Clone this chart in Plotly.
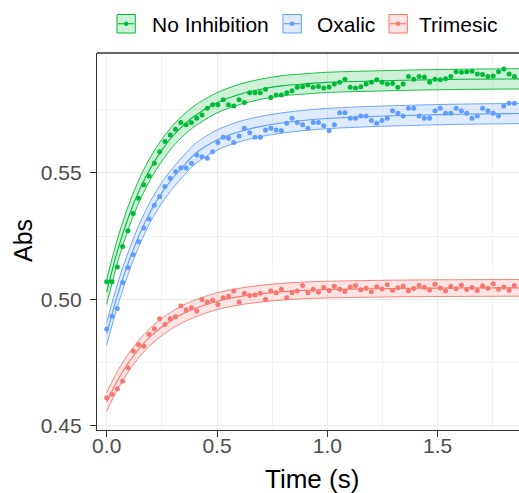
import plotly.graph_objects as go

# ---------------- data ----------------
time_s = [
    0.000, 0.024, 0.048, 0.072, 0.096, 0.120, 0.144, 0.168, 0.192, 0.216,
    0.240, 0.264, 0.288, 0.312, 0.336, 0.360, 0.384, 0.408, 0.432, 0.456,
    0.480, 0.504, 0.528, 0.552, 0.576, 0.600, 0.624, 0.648, 0.672, 0.696,
    0.720, 0.744, 0.768, 0.792, 0.816, 0.840, 0.864, 0.888, 0.912, 0.936,
    0.960, 0.984, 1.008, 1.032, 1.056, 1.080, 1.104, 1.128, 1.152, 1.176,
    1.200, 1.224, 1.248, 1.272, 1.296, 1.320, 1.344, 1.368, 1.392, 1.416,
    1.440, 1.464, 1.488, 1.512, 1.536, 1.560, 1.584, 1.608, 1.632, 1.656,
    1.680, 1.704, 1.728, 1.752, 1.776, 1.800, 1.824, 1.848]

no_inhibition = [
    0.5070, 0.5070, 0.5128, 0.5209, 0.5271, 0.5340,
    0.5400, 0.5453, 0.5488, 0.5538, 0.5584, 0.5624, 0.5650, 0.5673, 0.5699, 0.5690,
    0.5699, 0.5716, 0.5729, 0.5756, 0.5769, 0.5769, 0.5789, 0.5769, 0.5765, 0.5789,
    0.5778, 0.5817, 0.5817, 0.5817, 0.5831, 0.5798, 0.5808, 0.5808, 0.5817, 0.5825,
    0.5839, 0.5841, 0.5848,
    0.5839, 0.5842, 0.5836, 0.5840, 0.5851, 0.5858, 0.5870, 0.5839, 0.5836, 0.5841,
    0.5851, 0.5858, 0.5868, 0.5858, 0.5851, 0.5853, 0.5839, 0.5851, 0.5881, 0.5870,
    0.5881, 0.5879, 0.5858, 0.5870, 0.5868, 0.5872, 0.5881, 0.5900, 0.5898, 0.5900,
    0.5902, 0.5891, 0.5889, 0.5881, 0.5883, 0.5900, 0.5911, 0.5891, 0.5881]

oxalic = [
    0.4883, 0.4934, 0.4964, 0.5067, 0.5126, 0.5178, 0.5228, 0.5282, 0.5318, 0.5372,
    0.5406, 0.5446, 0.5479, 0.5505, 0.5519, 0.5519, 0.5538, 0.5571, 0.5564, 0.5558,
    0.5584, 0.5620, 0.5641, 0.5637, 0.5620, 0.5646, 0.5677, 0.5659, 0.5641, 0.5641,
    0.5670, 0.5677, 0.5670, 0.5667, 0.5696, 0.5716, 0.5699, 0.5690, 0.5677,
    0.5699, 0.5699, 0.5686, 0.5667, 0.5690, 0.5738, 0.5738, 0.5716, 0.5716, 0.5725,
    0.5725, 0.5707, 0.5696, 0.5707, 0.5716, 0.5746, 0.5736, 0.5725, 0.5756, 0.5756,
    0.5725, 0.5716, 0.5716, 0.5746, 0.5756, 0.5736, 0.5736, 0.5756, 0.5746, 0.5736,
    0.5716, 0.5725, 0.5756, 0.5746, 0.5736, 0.5725, 0.5765, 0.5775, 0.5775]

trimesic = [
    0.4611, 0.4625, 0.4647, 0.4677, 0.4730, 0.4796, 0.4822, 0.4815, 0.4862, 0.4884,
    0.4924, 0.4901, 0.4924, 0.4932, 0.4974, 0.4958, 0.4967, 0.4954, 0.5000, 0.4989,
    0.4997, 0.4980, 0.5007, 0.5013, 0.5033, 0.4989, 0.5024, 0.5016, 0.5018, 0.5024,
    0.5000, 0.5033, 0.5026, 0.5040, 0.5007, 0.5026, 0.5033, 0.5055, 0.5026,
    0.5040, 0.5028, 0.5047, 0.5035, 0.5052, 0.5040, 0.5031, 0.5049, 0.5055, 0.5038,
    0.5044, 0.5030, 0.5050, 0.5041, 0.5058, 0.5036, 0.5046, 0.5052, 0.5034, 0.5043,
    0.5055, 0.5048, 0.5037, 0.5060, 0.5045, 0.5033, 0.5051, 0.5042, 0.5056, 0.5039,
    0.5047, 0.5035, 0.5053, 0.5044, 0.5062, 0.5040, 0.5049, 0.5036, 0.5055]

# fitted curves and confidence bands
fit_time = [0, 0.05, 0.1, 0.15, 0.2, 0.25, 0.3, 0.35, 0.4, 0.5, 0.6, 0.7, 0.8, 0.9,
            1.0, 1.2, 1.4, 1.6, 1.9]

no_inh_fit = [0.5030, 0.5196, 0.5329, 0.5436, 0.5521, 0.5590, 0.5646, 0.5690, 0.5726, 0.5777,
              0.5810, 0.5831, 0.5845, 0.5852, 0.5858, 0.5863, 0.5867, 0.5870, 0.5872]
no_inh_hi = [0.5080, 0.5243, 0.5375, 0.5481, 0.5565, 0.5633, 0.5688, 0.5731, 0.5767, 0.5817,
             0.5850, 0.5871, 0.5885, 0.5892, 0.5898, 0.5903, 0.5907, 0.5910, 0.5912]
no_inh_lo = [0.4980, 0.5149, 0.5283, 0.5391, 0.5477, 0.5547, 0.5604, 0.5649, 0.5685, 0.5737,
             0.5770, 0.5791, 0.5805, 0.5812, 0.5818, 0.5823, 0.5827, 0.5830, 0.5832]

oxalic_fit = [0.4865, 0.5020, 0.5150, 0.5260, 0.5350, 0.5422, 0.5480, 0.5530, 0.5575, 0.5630,
              0.5663, 0.5684, 0.5698, 0.5708, 0.5715, 0.5723, 0.5728, 0.5732, 0.5735]
oxalic_hi = [0.4910, 0.5064, 0.5193, 0.5302, 0.5391, 0.5463, 0.5520, 0.5570, 0.5615, 0.5670,
             0.5703, 0.5724, 0.5738, 0.5748, 0.5755, 0.5763, 0.5768, 0.5772, 0.5775]
oxalic_lo = [0.4820, 0.4976, 0.5107, 0.5218, 0.5309, 0.5381, 0.5440, 0.5490, 0.5535, 0.5590,
             0.5623, 0.5644, 0.5658, 0.5668, 0.5675, 0.5683, 0.5688, 0.5692, 0.5695]

trimesic_fit = [0.4595, 0.4682, 0.4752, 0.4809, 0.4855, 0.4891, 0.4921, 0.4945, 0.4964, 0.4993,
                0.5011, 0.5023, 0.5031, 0.5036, 0.5039, 0.5042, 0.5044, 0.5045, 0.5046]
trimesic_hi = [0.4632, 0.4718, 0.4787, 0.4843, 0.4889, 0.4925, 0.4955, 0.4979, 0.4998, 0.5026,
               0.5044, 0.5056, 0.5064, 0.5069, 0.5072, 0.5075, 0.5077, 0.5078, 0.5079]
trimesic_lo = [0.4558, 0.4646, 0.4717, 0.4775, 0.4821, 0.4857, 0.4887, 0.4911, 0.4930, 0.4960,
               0.4978, 0.4990, 0.4998, 0.5003, 0.5006, 0.5009, 0.5011, 0.5012, 0.5013]

series_names = ["No Inhibition", "Oxalic", "Trimesic"]
x_tick_vals = [0, 0.5, 1.0, 1.5]
x_tick_text = ["0.0", "0.5", "1.0", "1.5"]
y_tick_vals = [0.45, 0.50, 0.55]
y_tick_text = ["0.45", "0.50", "0.55"]

# ---------------- styling ----------------
colors = ["#00BA38", "#619CFF", "#F8766D"]
fills = ["rgba(0,186,56,0.20)", "rgba(97,156,255,0.20)", "rgba(248,118,109,0.20)"]
FONT = "Liberation Sans, Arial, Helvetica, sans-serif"

W, H = 519, 493
L, R, T, B = 97, 0, 53, 63
PW, PH = W - L - R, H - T - B


def px_x(px):
    return (px - L) / PW


def px_y(py):
    return (H - B - py) / PH


points = [no_inhibition, oxalic, trimesic]
fits = [no_inh_fit, oxalic_fit, trimesic_fit]
his = [no_inh_hi, oxalic_hi, trimesic_hi]
los = [no_inh_lo, oxalic_lo, trimesic_lo]

fig = go.Figure()
for name, c, fc, pts, fit, hi, lo in zip(series_names, colors, fills, points, fits, his, los):
    fig.add_trace(go.Scatter(x=fit_time, y=lo, mode="lines", name=name,
                             line=dict(color=c, width=0.9, shape="spline", smoothing=0.8),
                             hoverinfo="skip", showlegend=False))
    fig.add_trace(go.Scatter(x=fit_time, y=hi, mode="lines", name=name,
                             line=dict(color=c, width=0.9, shape="spline", smoothing=0.8),
                             fill="tonexty", fillcolor=fc, hoverinfo="skip", showlegend=False))
    fig.add_trace(go.Scatter(x=fit_time, y=fit, mode="lines", name=name,
                             line=dict(color=c, width=1.1, shape="spline", smoothing=0.8),
                             showlegend=False))
    fig.add_trace(go.Scatter(x=time_s, y=pts, mode="markers", name=name,
                             marker=dict(color=c, size=5, line=dict(width=0)),
                             showlegend=False))

axis_common = dict(
    showgrid=True, gridcolor="#EBEBEB", gridwidth=1.1, zeroline=False,
    showline=True, linecolor="#333333", linewidth=1.3,
    ticks="outside", ticklen=6, tickwidth=1.2, tickcolor="#333333",
    tickfont=dict(family=FONT, size=21, color="#4D4D4D"),
)

fig.update_xaxes(range=[-0.044, 1.869], tickmode="array", tickvals=x_tick_vals,
                 ticktext=x_tick_text,
                 minor=dict(tickmode="array", tickvals=[0.25, 0.75, 1.25, 1.75],
                            showgrid=True, gridcolor="#F2F2F2", gridwidth=0.7, ticks=""),
                 ticklabelstandoff=-9, **axis_common)
fig.update_yaxes(range=[0.4484, 0.5974], tickmode="array", tickvals=y_tick_vals,
                 ticktext=y_tick_text,
                 minor=dict(tickmode="array", tickvals=[0.475, 0.525, 0.575],
                            showgrid=True, gridcolor="#F2F2F2", gridwidth=0.7, ticks=""),
                 ticklabelstandoff=4, **axis_common)

shapes = [dict(type="line", xref="paper", yref="paper", x0=0, x1=1, y0=1, y1=1,
               line=dict(color="#333333", width=1.3), layer="above")]
annotations = []

# manual legend (ggplot style keys)
key_left = [117, 283, 389]
text_left = [150, 315, 417]
key_top, key_bot = 14.5, 33.0
key_mid = (key_top + key_bot) / 2
for name, c, fc, kx, tx in zip(series_names, colors, fills, key_left, text_left):
    kx1 = kx + 18.3
    shapes.append(dict(type="rect", xref="paper", yref="paper",
                       x0=px_x(kx), x1=px_x(kx1), y0=px_y(key_bot), y1=px_y(key_top),
                       fillcolor=fc, line=dict(color=c, width=1)))
    shapes.append(dict(type="line", xref="paper", yref="paper",
                       x0=px_x(kx + 1), x1=px_x(kx1 - 1), y0=px_y(key_mid), y1=px_y(key_mid),
                       line=dict(color=c, width=1.1)))
    cx = (kx + kx1) / 2
    shapes.append(dict(type="circle", xref="paper", yref="paper",
                       x0=px_x(cx - 2.2), x1=px_x(cx + 2.2),
                       y0=px_y(key_mid + 2.2), y1=px_y(key_mid - 2.2),
                       fillcolor=c, line=dict(color=c, width=0)))
    annotations.append(dict(text=name, xref="paper", yref="paper",
                            x=px_x(tx), y=px_y(24.5), xanchor="left", yanchor="middle",
                            showarrow=False, font=dict(family=FONT, size=21, color="#000000")))

# axis titles
annotations.append(dict(text="Time (s)", xref="paper", yref="paper",
                        x=px_x(311.7), y=px_y(479), xanchor="center", yanchor="middle",
                        showarrow=False, font=dict(family=FONT, size=26, color="#000000")))
annotations.append(dict(text="Abs", xref="paper", yref="paper", textangle=-90,
                        x=px_x(23), y=px_y(241), xanchor="center", yanchor="middle",
                        showarrow=False, font=dict(family=FONT, size=25, color="#000000")))

fig.update_layout(
    width=W, height=H,
    margin=dict(l=L, r=R, t=T, b=B, pad=0),
    plot_bgcolor="white", paper_bgcolor="white",
    showlegend=False,
    font=dict(family=FONT),
    shapes=shapes, annotations=annotations,
)

fig.write_html("out.html")
